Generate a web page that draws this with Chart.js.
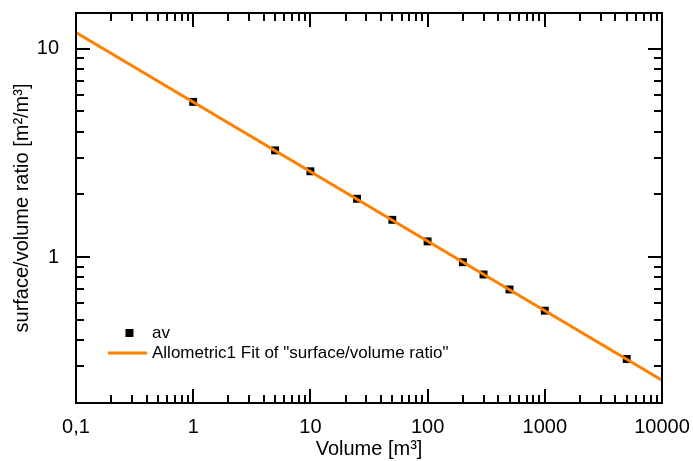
<!DOCTYPE html>
<html>
<head>
<meta charset="utf-8">
<script src="https://cdn.jsdelivr.net/npm/chart.js@4/dist/chart.umd.min.js"></script>
<style>
  html, body { margin: 0; padding: 0; background: #fff; }
  #wrap { width: 693px; height: 461px; }
</style>
</head>
<body>
<div id="wrap"><canvas id="c" width="693" height="461"></canvas></div>
<script>
// ---- data ----
const volumes = [1, 5, 10, 25, 50, 100, 200, 300, 500, 1000, 5000];
const ratios = [5.55, 3.25, 2.58, 1.905, 1.51, 1.19, 0.946, 0.826, 0.70, 0.554, 0.325];
const fitVolumes = [0.1, 10000];
const fitRatios = [11.92, 0.257];
const pointLabel = 'av';
const fitLabel = 'Allometric1 Fit of "surface/volume ratio"';
const xMajorTicks = [0.1, 1, 10, 100, 1000, 10000];
const xTickLabels = ['0,1', '1', '10', '100', '1000', '10000'];
const yMajorTicks = [1, 10];
const yTickLabels = ['1', '10'];
const xTitle = 'Volume [m³]';
const yTitle = 'surface/volume ratio [m²/m³]';
const xRange = [0.1, 10000];
const yRange = [0.2, 14.8];

function logTicks(min, max) {
  const out = [];
  const k0 = Math.floor(Math.log10(min)), k1 = Math.ceil(Math.log10(max));
  for (let k = k0; k <= k1; k++) {
    for (let m = 1; m <= 9; m++) {
      const v = parseFloat((m * Math.pow(10, k)).toPrecision(6));
      if (v >= min * 0.9999 && v <= max * 1.0001) out.push(v);
    }
  }
  return out;
}
function labelFor(v, majors, labels) {
  for (let i = 0; i < majors.length; i++) {
    if (Math.abs(v - majors[i]) / majors[i] < 1e-6) return labels[i];
  }
  return '';
}
function isMajor(v, majors) {
  return majors.some(m => Math.abs(v - m) / m < 1e-6);
}

const FONT = "'Liberation Sans', Arial, sans-serif";

const framePlugin = {
  id: 'frameTicksLegend',
  afterDraw(chart) {
    const ctx = chart.ctx;
    const { left, right, top, bottom } = chart.chartArea;
    const xs = chart.scales.x, ys = chart.scales.y;
    ctx.save();
    ctx.strokeStyle = '#000';
    ctx.lineWidth = 2;
    ctx.lineCap = 'butt';
    ctx.beginPath();
    xs.ticks.forEach(t => {
      const px = Math.round(xs.getPixelForValue(t.value));
      const len = isMajor(t.value, xMajorTicks) ? 14 : 8;
      ctx.moveTo(px, bottom); ctx.lineTo(px, bottom - len);
      ctx.moveTo(px, top); ctx.lineTo(px, top + len);
    });
    ys.ticks.forEach(t => {
      const py = Math.round(ys.getPixelForValue(t.value));
      const len = isMajor(t.value, yMajorTicks) ? 14 : 8;
      ctx.moveTo(left, py); ctx.lineTo(left + len, py);
      ctx.moveTo(right, py); ctx.lineTo(right - len, py);
    });
    ctx.stroke();
    ctx.lineJoin = 'miter';
    ctx.strokeRect(left, top, right - left, bottom - top);

    // legend (inside plot area, lower left)
    const dsPts = chart.data.datasets[0];
    const dsFit = chart.data.datasets[1];
    ctx.font = '17px ' + FONT;
    ctx.textBaseline = 'middle';
    ctx.textAlign = 'left';
    ctx.fillStyle = dsPts.backgroundColor;
    ctx.fillRect(125.5, 329, 8, 8);
    ctx.fillStyle = '#000';
    ctx.fillText(dsPts.label, 152, 333);
    ctx.strokeStyle = dsFit.borderColor;
    ctx.lineWidth = dsFit.borderWidth;
    ctx.beginPath();
    ctx.moveTo(108, 353); ctx.lineTo(147, 353);
    ctx.stroke();
    ctx.fillStyle = '#000';
    ctx.fillText(dsFit.label, 152, 353);
    ctx.restore();
  }
};

new Chart(document.getElementById('c'), {
  type: 'scatter',
  data: {
    datasets: [
      {
        label: pointLabel,
        data: volumes.map((v, i) => ({ x: v, y: ratios[i] })),
        pointStyle: 'rect',
        pointRadius: 5.6,
        backgroundColor: '#000',
        borderColor: '#000',
        borderWidth: 0,
        showLine: false,
        order: 1
      },
      {
        label: fitLabel,
        data: fitVolumes.map((v, i) => ({ x: v, y: fitRatios[i] })),
        showLine: true,
        pointRadius: 0,
        borderColor: '#FF7F00',
        borderWidth: 3,
        fill: false,
        order: 0
      }
    ]
  },
  options: {
    responsive: false,
    animation: false,
    devicePixelRatio: 1,
    layout: { padding: { top: 13, right: 31, left: 0, bottom: 0 } },
    plugins: { legend: { display: false }, tooltip: { enabled: false } },
    scales: {
      x: {
        type: 'logarithmic',
        min: xRange[0], max: xRange[1],
        afterBuildTicks: s => { s.ticks = logTicks(xRange[0], xRange[1]).map(v => ({ value: v })); },
        afterFit: s => { s.height = 58; s.paddingLeft = 0; s.paddingRight = 0; },
        grid: { display: false, drawTicks: false },
        border: { display: false },
        ticks: {
          autoSkip: false, maxRotation: 0, minRotation: 0, padding: 12,
          color: '#000', font: { family: FONT, size: 20 },
          callback: v => labelFor(v, xMajorTicks, xTickLabels)
        },
        title: {
          display: true, text: xTitle, color: '#000',
          font: { family: FONT, size: 20 }, padding: { top: 0, bottom: 0 }
        }
      },
      y: {
        type: 'logarithmic',
        min: yRange[0], max: yRange[1],
        afterBuildTicks: s => { s.ticks = logTicks(yRange[0], yRange[1]).map(v => ({ value: v })); },
        afterFit: s => { s.width = 76; s.paddingTop = 0; s.paddingBottom = 0; },
        grid: { display: false, drawTicks: false },
        border: { display: false },
        ticks: {
          autoSkip: false, padding: 17,
          color: '#000', font: { family: FONT, size: 20 },
          callback: v => labelFor(v, yMajorTicks, yTickLabels)
        },
        title: {
          display: true, text: yTitle, color: '#000',
          font: { family: FONT, size: 20 }, padding: { top: 10, bottom: 0 }
        }
      }
    }
  },
  plugins: [framePlugin]
});
</script>
</body>
</html>
